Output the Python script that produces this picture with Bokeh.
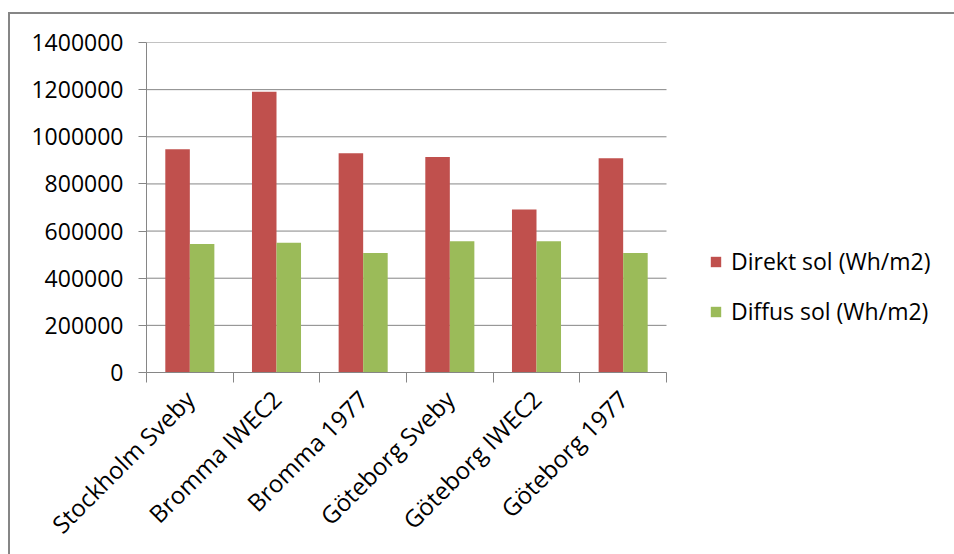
import numpy as np
from bokeh.plotting import figure
from bokeh.models import (Range1d, FixedTicker, Legend, LegendItem,
                          BasicTickFormatter)
from bokeh.embed import file_html
from bokeh.resources import INLINE
import math

categories = ["Stockholm Sveby", "Bromma IWEC2", "Bromma 1977",
              "Göteborg Sveby", "Göteborg IWEC2", "Göteborg 1977"]
direkt = [947000, 1191000, 930000, 914000, 691000, 909000]
diffus = [545000, 550000, 507000, 557000, 557000, 507000]
y_ticks = [0, 200000, 400000, 600000, 800000, 1000000, 1200000, 1400000]
series_names = ["Direkt sol (Wh/m2)", "Diffus sol (Wh/m2)"]
colors = ["#C0504D", "#9BBB59"]

FONT = "Open Sans"
FS = "23px"
XFS = "24px"
GRAY = "#868686"
W, H = 954, 554
LEFT, TOP, BOTTOM = 146, 42, 181
PLOT_W = 520          # width of the category area in pixels

n = len(categories)
centers = np.arange(n) + 0.5
bounds = list(np.arange(n + 1).astype(float))
bw = 0.283
x_end = n * (W - LEFT) / PLOT_W   # frame spans to the right edge; legend sits inside it

p = figure(width=W, height=H, output_backend="svg", toolbar_location=None,
           x_range=Range1d(0, x_end), y_range=Range1d(y_ticks[0], y_ticks[-1]),
           min_border_left=LEFT, min_border_right=0, min_border_top=TOP,
           min_border_bottom=BOTTOM)
p.outline_line_color = None
p.background_fill_alpha = 0
p.border_fill_alpha = 0
p.styles = {
    "background": ("linear-gradient(#868686,#868686) 8px 12px / 2px 100% no-repeat, "
                   "linear-gradient(#868686,#868686) 8px 12px / 100% 2px no-repeat, "
                   "#ffffff"),
}

# horizontal gridlines limited to the category area
p.segment(x0=[0] * len(y_ticks), x1=[n] * len(y_ticks), y0=y_ticks, y1=y_ticks,
          line_color=GRAY, line_width=1, level="underlay")

r1 = p.vbar(x=centers - bw / 2, top=direkt, width=bw, bottom=0,
            fill_color=colors[0], line_color=None)
r2 = p.vbar(x=centers + bw / 2, top=diffus, width=bw, bottom=0,
            fill_color=colors[1], line_color=None)

# y axis
ya = p.yaxis[0]
ya.ticker = FixedTicker(ticks=y_ticks)
ya.formatter = BasicTickFormatter(use_scientific=False)
ya.axis_line_color = GRAY
ya.major_tick_line_color = GRAY
ya.major_tick_out = 8
ya.major_tick_in = 0
ya.minor_tick_line_color = None
ya.major_label_standoff = 15
ya.major_label_text_font = FONT
ya.major_label_text_font_size = FS
ya.major_label_text_color = "#000000"

# x axis
xa = p.xaxis[0]
xa.bounds = (0, n)
xa.ticker = FixedTicker(ticks=list(centers), minor_ticks=bounds)
xa.major_label_overrides = {float(c): name for c, name in zip(centers, categories)}
xa.axis_line_color = GRAY
xa.major_tick_line_color = None
xa.major_tick_out = 0
xa.major_tick_in = 0
xa.minor_tick_line_color = GRAY
xa.minor_tick_out = 10
xa.minor_tick_in = 0
xa.major_label_orientation = math.pi / 4
xa.major_label_standoff = 12
xa.major_label_text_font = FONT
xa.major_label_text_font_size = XFS
xa.major_label_text_color = "#000000"

p.xgrid.grid_line_color = None
p.ygrid.grid_line_color = None

legend = Legend(items=[LegendItem(label=series_names[0], renderers=[r1]),
                       LegendItem(label=series_names[1], renderers=[r2])],
                location=(709 - LEFT, 45), orientation="vertical",
                glyph_width=13, glyph_height=13, label_height=23,
                spacing=18, label_standoff=9, padding=0, margin=0,
                label_text_font=FONT, label_text_font_size=FS,
                label_text_color="#000000",
                background_fill_alpha=0, border_line_color=None)
p.add_layout(legend, "center")

open("out.html", "w").write(file_html(p, INLINE))
